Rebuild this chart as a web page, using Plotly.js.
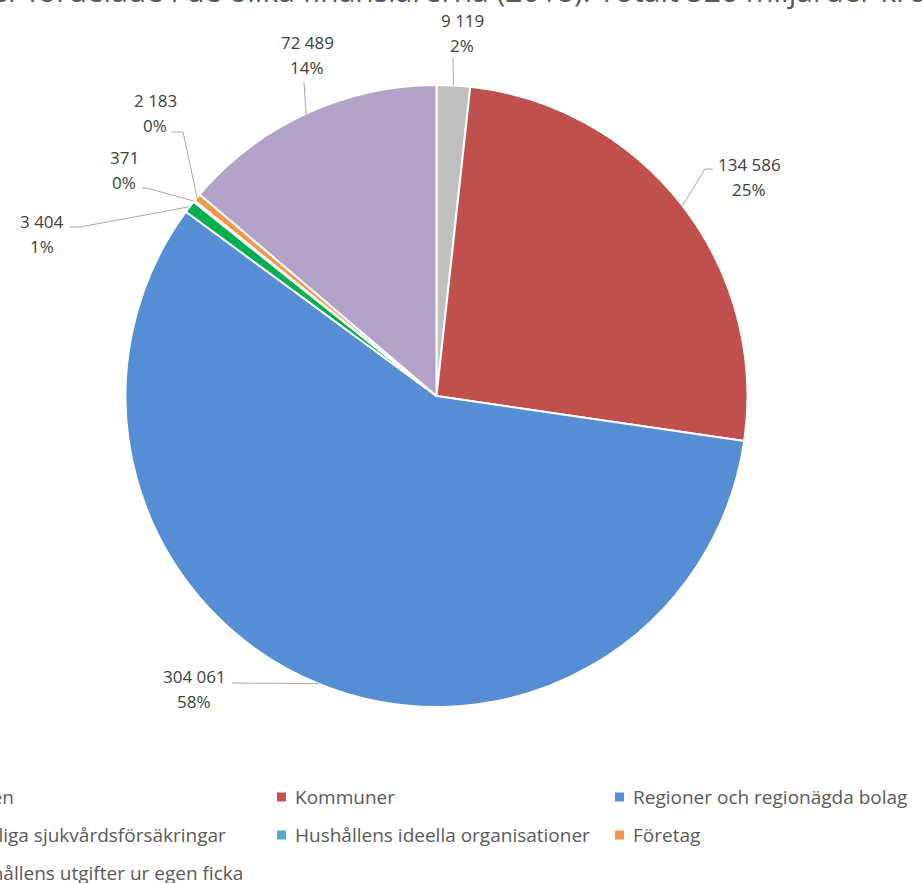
<!DOCTYPE html>
<html><head><meta charset="utf-8">
<script src="https://cdn.plot.ly/plotly-3.0.1.min.js"></script>
<style>html,body{margin:0;padding:0;background:#fff;overflow:hidden}#chart{width:922px;height:883px}</style>
</head><body><div id="chart"></div>
<script>
// ---- data ----
const categories = ["Staten", "Kommuner", "Regioner och regionägda bolag",
  "Frivilliga sjukvårdsförsäkringar", "Hushållens ideella organisationer",
  "Företag", "Hushållens utgifter ur egen ficka"];
const values = [9119, 134586, 304061, 3404, 371, 2183, 72489];
const percentLabels = ["2%", "25%", "58%", "1%", "0%", "0%", "14%"];
const titleText = "Hälso- och sjukvårdsutgifter fördelade i de olika finansiärerna (2018). Totalt 526 miljarder kronor";

// ---- styles / layout config ----
const colors = ["#BFBFBF", "#C0504D", "#558ED5", "#00B050", "#4BACC6", "#F79646", "#B3A2C7"];
const W = 922, H = 883;
const CX = 436.5, CY = 396, R = 311;
// label text-block centres and leader attach/elbow points (pixels)
const labelLayout = [
  {tx: 462, ty: 33,  attach: [453, 58]},
  {tx: 749, ty: 177, attach: [713, 169], elbow: [705, 169]},
  {tx: 194, ty: 689, attach: [232, 683]},
  {tx: 42,  ty: 234, attach: [70, 227],  elbow: [80, 227]},
  {tx: 124, ty: 170, attach: [142, 188], elbow: [147, 188]},
  {tx: 155, ty: 113, attach: [172, 132], elbow: [183, 132]},
  {tx: 307, ty: 55,  attach: [304, 82]}
];
const LINE_GAP = 25;
const labelFont = {family: "Open Sans, sans-serif", size: 17, color: "#404040"};
const legendFont = {family: "Open Sans, sans-serif", size: 19, color: "#595959"};

const px = x => x / W;
const py = y => 1 - y / H;
const fmt = v => String(v).replace(/\B(?=(\d{3})+(?!\d))/g, " ");

const total = values.reduce((a, b) => a + b, 0);
let cum = 0;
const annotations = [];
const shapes = [];
values.forEach((v, i) => {
  const mid = (cum + v / 2) / total;
  cum += v;
  const ang = mid * 2 * Math.PI;
  const ax = CX + R * Math.sin(ang), ay = CY - R * Math.cos(ang);
  const L = labelLayout[i];
  const pts = [L.attach];
  if (L.elbow) pts.push(L.elbow);
  pts.push([ax, ay]);
  shapes.push({
    type: "path", xref: "paper", yref: "paper",
    path: pts.map((p, k) => (k ? "L" : "M") + px(p[0]) + "," + py(p[1])).join(" "),
    line: {color: "#A6A6A6", width: 1}
  });
  annotations.push({xref: "paper", yref: "paper", x: px(L.tx), y: py(L.ty - LINE_GAP / 2),
    text: fmt(v), showarrow: false, xanchor: "center", yanchor: "middle", font: labelFont});
  annotations.push({xref: "paper", yref: "paper", x: px(L.tx), y: py(L.ty + LINE_GAP / 2),
    text: percentLabels[i], showarrow: false, xanchor: "center", yanchor: "middle", font: labelFont});
});

// custom legend (3 columns)
const LEG_X0 = -61, LEG_COL = 338, LEG_Y0 = 797, LEG_ROW = 38, SQ = 9;
categories.forEach((c, i) => {
  const col = i % 3, row = Math.floor(i / 3);
  const mx = LEG_X0 + col * LEG_COL, my = LEG_Y0 + row * LEG_ROW;
  shapes.push({type: "rect", xref: "paper", yref: "paper",
    x0: px(mx), x1: px(mx + SQ), y0: py(my - SQ / 2), y1: py(my + SQ / 2),
    fillcolor: colors[i], line: {width: 0}});
  annotations.push({xref: "paper", yref: "paper", x: px(mx + SQ + 7), y: py(my),
    text: c, showarrow: false, xanchor: "left", yanchor: "middle", font: legendFont});
});

// title (cropped at top like the reference)
annotations.push({xref: "paper", yref: "paper", x: px(-372), y: py(-9),
  text: titleText, showarrow: false, xanchor: "left", yanchor: "middle",
  font: {family: "Open Sans, sans-serif", size: 30, color: "#595959"}});

const trace = {
  type: "pie",
  labels: categories,
  values: values,
  sort: false,
  direction: "clockwise",
  rotation: 0,
  textinfo: "none",
  hoverinfo: "label+value+percent",
  marker: {colors: colors, line: {color: "#FFFFFF", width: 2}},
  domain: {x: [px(CX - R), px(CX + R)], y: [py(CY + R), py(CY - R)]},
  showlegend: false
};

const layout = {
  width: W, height: H,
  margin: {l: 0, r: 0, t: 0, b: 0},
  paper_bgcolor: "#FFFFFF",
  plot_bgcolor: "#FFFFFF",
  showlegend: false,
  shapes: shapes,
  annotations: annotations
};

Plotly.newPlot("chart", [trace], layout, {displayModeBar: false, staticPlot: true});
</script>
</body></html>
